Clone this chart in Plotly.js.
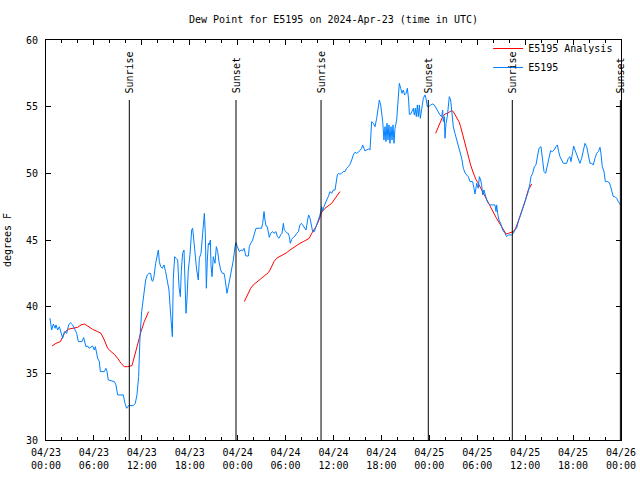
<!DOCTYPE html>
<html>
<head>
<meta charset="utf-8">
<script src="https://cdn.plot.ly/plotly-3.0.1.min.js"></script>
<style>html,body{margin:0;padding:0;background:#fff;}#chart{width:640px;height:480px;}</style>
</head>
<body>
<div id="chart"></div>
<script>
// Hours since 2024-04-23 00:00 UTC
const blueHours = [0.5,0.71,0.92,1.13,1.25,1.46,1.67,1.88,2.09,2.3,2.59,2.84,3.05,3.34,3.67,3.84,4.05,4.5,4.72,5.0,5.2,5.4,5.84,6.05,6.18,6.47,6.68,6.8,7.3,7.5,7.64,7.8,8.56,8.76,8.97,9.68,9.89,10.1,10.35,10.93,11.18,11.39,11.6,11.77,11.98,
12.19,12.31,12.48,12.69,12.9,13.1,13.23,13.36,13.52,13.73,13.94,14.07,14.19,14.36,14.57,14.78,14.98,15.19,15.4,15.57,15.69,15.82,15.94,16.11,16.28,16.49,16.65,16.82,16.95,17.11,17.28,17.4,17.53,17.65,17.82,18.03,18.24,18.36,18.45,18.57,18.7,18.87,19.07,19.2,19.41,19.53,19.7,19.83,19.95,20.08,20.2,20.33,20.45,20.58,20.66,20.79,20.95,21.16,21.33,21.5,21.66,21.87,22.08,22.29,22.41,22.54,22.66,22.83,
23.04,23.25,23.46,23.67,23.79,23.96,24.21,24.42,24.63,24.79,25.04,25.34,25.46,25.63,25.88,26.05,26.3,26.71,27.0,27.13,27.3,27.42,27.55,27.71,27.84,27.96,28.13,28.38,28.55,28.8,28.97,29.18,29.38,29.55,29.72,29.84,30.05,30.22,30.34,30.47,30.59,30.76,30.97,31.18,31.39,31.6,31.8,31.97,32.14,32.31,32.56,32.76,32.89,33.06,33.22,33.39,33.6,33.81,33.97,34.14,34.31,
34.52,34.64,34.81,34.94,35.14,35.35,35.56,35.77,35.98,36.19,36.31,36.48,36.61,36.81,37.02,37.23,37.44,37.65,37.86,38.07,38.28,38.48,38.69,38.9,39.11,39.32,39.53,39.65,39.82,39.94,40.15,40.36,40.57,40.65,40.78,40.99,41.2,41.41,41.61,41.74,41.91,42.03,42.16,42.32,42.45,42.57,42.7,42.82,42.95,43.07,43.2,43.33,43.45,43.58,43.7,43.91,44.08,44.24,44.41,44.58,44.74,44.91,45.08,45.25,45.41,45.5,45.66,45.83,46.0,46.12,46.25,46.37,46.5,46.62,46.75,46.87,
47.04,47.25,47.46,47.58,47.75,47.96,48.17,48.42,48.62,48.83,49.13,49.33,49.54,49.67,49.75,49.88,49.96,50.09,50.25,50.38,50.5,50.67,50.8,50.92,51.0,51.21,51.42,51.63,51.84,52.05,52.26,52.46,52.67,52.88,53.09,53.42,53.59,53.72,53.93,54.13,54.26,54.43,54.55,54.68,54.84,55.01,55.18,55.39,55.59,55.8,56.01,56.22,56.35,56.43,56.55,56.72,56.93,57.18,57.47,57.68,57.89,58.1,58.31,58.52,58.72,58.93,
59.14,59.56,59.85,60.1,60.39,60.6,60.73,60.94,61.15,61.35,61.52,61.73,61.98,62.15,62.36,62.56,62.77,62.98,63.19,63.4,63.61,63.86,64.03,64.19,64.36,64.57,64.78,65.19,65.4,65.61,65.74,65.95,66.07,66.24,66.45,66.65,66.86,67.07,67.28,67.49,67.7,67.91,68.12,68.32,68.53,68.74,68.95,69.16,69.37,69.49,69.66,69.87,70.04,70.29,70.54,70.7,70.87,71.04,71.25,71.45,71.66,71.79,72.0];
const blueValues = [39.13,38.25,38.7,38.38,38.63,38.25,38.5,38.0,37.63,38.13,38.0,38.63,38.8,38.63,38.25,38.0,37.38,37.38,37.68,37.0,37.05,36.88,37.05,36.75,37.0,36.13,35.88,35.13,35.13,35.38,35.13,34.5,34.38,34.13,33.38,33.38,32.75,32.38,32.58,32.58,32.75,33.38,34.75,37.75,39.63,
40.75,41.45,42.0,42.38,42.5,42.5,42.0,41.9,42.25,43.25,43.88,44.25,43.38,43.0,42.88,43.13,42.63,42.0,41.25,39.75,38.38,37.75,42.13,43.75,43.63,43.5,41.5,40.75,42.75,44.0,44.25,42.0,39.5,40.5,42.75,43.88,45.75,45.88,45.25,44.5,43.63,42.75,42.0,43.63,44.0,45.0,46.25,47.0,45.5,41.38,43.5,44.75,44.63,45.0,43.13,42.25,43.75,43.25,44.5,44.13,43.38,42.75,42.5,42.5,42.13,41.25,41.0,41.5,
42.13,43.0,43.5,44.5,44.8,44.5,44.13,44.25,44.2,44.38,43.8,43.8,44.5,44.75,45.0,45.38,45.88,45.88,45.88,46.25,47.13,46.5,46.05,46.0,45.63,45.2,45.5,45.63,45.5,45.63,45.25,45.13,45.38,45.5,46.25,45.75,45.63,45.5,45.5,45.25,44.75,45.05,45.2,45.3,45.5,45.63,46.13,46.25,46.13,46.0,45.75,46.5,46.88,46.63,46.0,45.63,45.63,46.0,46.38,46.75,46.88,
47.5,47.18,47.5,47.75,48.0,48.25,48.63,48.5,48.75,48.75,49.38,49.88,50.0,49.93,50.0,50.13,50.13,50.38,50.5,50.68,51.0,51.38,51.58,51.5,51.58,51.75,51.88,52.13,51.88,51.68,51.75,51.83,51.75,52.88,53.88,53.75,53.5,54.13,55.25,55.5,55.13,54.5,53.88,52.5,53.5,52.38,53.75,52.5,53.63,52.25,53.5,52.5,53.63,52.25,53.38,54.0,55.63,56.75,56.38,56.0,56.25,55.88,56.0,56.38,55.5,54.43,54.43,54.63,54.88,54.38,54.88,54.25,55.13,54.25,55.13,54.13,
55.0,55.63,55.88,55.63,55.0,55.0,55.13,55.2,55.13,54.88,54.63,54.38,54.25,54.75,53.88,54.25,52.63,53.75,54.25,55.0,55.75,55.5,54.75,54.38,53.5,53.0,52.5,52.0,51.5,51.13,50.38,50.05,49.88,49.75,49.38,49.38,48.88,48.45,49.25,48.88,49.75,49.5,49.13,48.38,48.75,48.25,48.0,47.75,47.63,47.63,47.63,47.63,47.13,47.63,47.0,46.5,46.25,45.75,45.5,45.25,45.38,45.38,45.38,45.5,45.75,45.88,
46.38,47.13,47.63,48.0,48.63,49.25,49.75,50.0,50.5,50.63,51.25,51.88,52.0,51.0,50.13,50.0,50.5,51.0,51.7,51.63,51.75,52.0,52.13,51.63,51.25,51.0,50.75,50.75,51.13,51.25,50.88,51.63,52.05,51.75,51.38,51.13,50.75,51.13,51.75,52.25,52.0,51.38,50.75,50.75,50.63,51.13,51.5,51.63,51.95,51.5,50.5,50.13,49.38,49.38,49.3,49.0,48.5,48.25,48.25,48.13,47.88,47.75,47.6];

const redHours = [0.75,1.25,1.8,2.3,2.71,3.34,3.96,4.38,4.8,5.22,5.84,6.47,6.89,7.3,7.72,8.14,8.56,8.97,9.39,9.81,10.23,10.77,11.06,11.48,11.9,12.31,12.85,
18.0,
24.83,25.04,25.34,25.63,25.96,26.3,26.71,27.13,27.55,27.84,28.05,28.26,28.55,28.88,29.3,29.72,30.14,30.55,30.97,31.39,31.8,32.22,32.64,32.97,33.27,33.56,33.81,34.1,34.31,34.52,34.94,35.35,35.77,36.06,36.4,36.81,
42.0,
48.79,49.13,49.42,49.67,49.96,50.25,50.59,50.8,51.0,51.3,51.5,51.71,51.92,52.13,52.34,52.55,52.76,52.96,53.17,53.38,53.59,53.8,54.01,54.22,54.43,54.63,54.84,55.05,55.26,55.47,55.68,55.89,56.1,56.35,56.55,56.85,57.14,57.35,57.6,57.89,58.18,58.52,58.81,59.02,59.27,59.98,60.39,60.82];
const redValues = [37.05,37.25,37.38,38.0,38.3,38.38,38.45,38.63,38.7,38.55,38.3,38.13,38.0,37.5,36.88,36.63,36.43,36.13,35.75,35.5,35.5,35.58,36.25,37.13,38.13,38.88,39.63,
null,
40.38,40.63,41.0,41.38,41.63,41.8,42.0,42.2,42.38,42.55,42.75,43.05,43.38,43.63,43.75,43.88,44.05,44.25,44.43,44.6,44.75,44.88,45.0,45.13,45.5,45.75,46.0,46.38,46.75,47.08,47.38,47.58,47.75,48.0,48.33,48.63,
null,
53.0,53.5,53.95,54.25,54.45,54.5,54.63,54.7,54.63,54.3,54.13,53.88,53.5,53.0,52.5,52.0,51.5,51.0,50.63,50.25,49.88,49.58,49.38,49.13,48.95,48.7,48.5,48.25,48.0,47.75,47.5,47.25,47.0,46.7,46.5,46.2,45.88,45.63,45.45,45.5,45.58,45.63,45.88,46.2,46.63,47.88,48.75,49.2];

const eventHours = [10.43, 23.79, 34.44, 47.87, 58.39, 71.92];
const eventLabels = ["Sunrise", "Sunset", "Sunrise", "Sunset", "Sunrise", "Sunset"];

const xStart = "2024-04-23 00:00:00";
const xEnd = "2024-04-26 00:00:00";

const base = Date.UTC(2024, 3, 23);
function toDate(h) {
  return new Date(base + Math.round(h * 3600000)).toISOString().slice(0, 19).replace('T', ' ');
}

const FONT = "DejaVu Sans Mono, monospace";

const traces = [
  {
    x: redHours.map(toDate), y: redValues, type: 'scatter', mode: 'lines',
    name: 'E5195 Analysis', line: {color: '#ff0000', width: 1}, connectgaps: false
  },
  {
    x: blueHours.map(toDate), y: blueValues, type: 'scatter', mode: 'lines',
    name: 'E5195', line: {color: '#0080ff', width: 1}
  }
];

const shapes = eventHours.map(h => ({
  type: 'line', xref: 'x', yref: 'paper',
  x0: toDate(h), x1: toDate(h), y0: 0, y1: 0.85,
  line: {color: '#000000', width: 1}
}));
const annotations = eventHours.map((h, i) => ({
  x: toDate(h), xref: 'x', y: 0.862, yref: 'paper',
  text: eventLabels[i], textangle: -90, showarrow: false,
  xanchor: 'center', yanchor: 'bottom',
  font: {family: FONT, size: 10, color: '#000'}
}));

const layout = {
  width: 640, height: 480,
  margin: {l: 46, r: 19, t: 40, b: 40},
  paper_bgcolor: '#ffffff', plot_bgcolor: '#ffffff',
  font: {family: FONT, size: 10, color: '#000'},
  title: {text: 'Dew Point for E5195 on 2024-Apr-23 (time in UTC)', x: 0.5, xref: 'paper', xanchor: 'center',
          y: 1 - 19/480, yref: 'container', yanchor: 'middle', font: {family: FONT, size: 10, color: '#000'}},
  xaxis: {
    type: 'date', range: [xStart, xEnd], dtick: 6 * 3600000, tick0: xStart,
    tickformat: '%m/%d<br>%H:%M', ticks: 'inside', ticklen: 5, tickcolor: '#000',
    showline: true, linecolor: '#000', linewidth: 1, mirror: 'allticks',
    showgrid: false, zeroline: false, ticklabelstandoff: 3,
    minor: {dtick: 2 * 3600000, ticks: 'inside', ticklen: 3, tickcolor: '#000', showgrid: false},
    tickfont: {family: FONT, size: 10, color: '#000'}
  },
  yaxis: {
    range: [30, 60], dtick: 5, ticks: 'inside', ticklen: 5, tickcolor: '#000',
    showline: true, linecolor: '#000', linewidth: 1, mirror: 'allticks',
    showgrid: false, zeroline: false, ticklabelstandoff: 5,
    tickfont: {family: FONT, size: 10, color: '#000'},
    title: {text: 'degrees F', standoff: 12, font: {family: FONT, size: 10, color: '#000'}}
  },
  legend: {x: 0.995, y: 1.015, xanchor: 'right', yanchor: 'top', bgcolor: 'rgba(0,0,0,0)',
           font: {family: FONT, size: 10, color: '#000'}, traceorder: 'normal', itemwidth: 30, tracegroupgap: 0},
  showlegend: true,
  shapes: shapes,
  annotations: annotations
};

Plotly.newPlot('chart', traces, layout, {displayModeBar: false, staticPlot: true});
</script>
</body>
</html>
